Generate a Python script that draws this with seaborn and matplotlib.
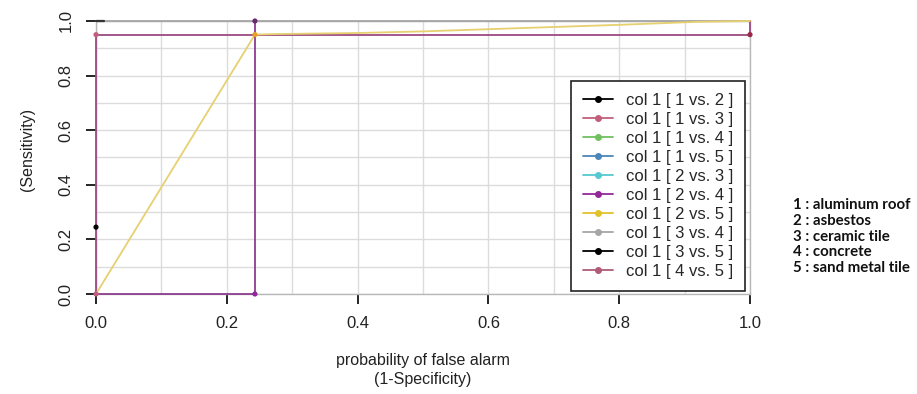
import matplotlib
matplotlib.use("Agg")
import matplotlib.pyplot as plt
from matplotlib.lines import Line2D
import seaborn as sns
import pandas as pd
import numpy as np

sns.set_theme(style="white")
plt.rcParams['font.family'] = ['Liberation Sans', 'DejaVu Sans']

# ---- data ----
series_labels = ["col 1 [ 1 vs. 2 ]", "col 1 [ 1 vs. 3 ]", "col 1 [ 1 vs. 4 ]",
                 "col 1 [ 1 vs. 5 ]", "col 1 [ 2 vs. 3 ]", "col 1 [ 2 vs. 4 ]",
                 "col 1 [ 2 vs. 5 ]", "col 1 [ 3 vs. 4 ]", "col 1 [ 3 vs. 5 ]",
                 "col 1 [ 4 vs. 5 ]"]
series_colors = ["#000000", "#c0607a", "#70c060", "#4a86b8", "#55c8d0",
                 "#93279a", "#e2c22a", "#a6a6a6", "#000000", "#b05a78"]

# visible curves (false alarm x, sensitivity y)
x_12 = [0.0]
y_12 = [0.245]
x_34 = [0.0, 1.0]
y_34 = [1.0, 1.0]
x_45 = [0.0, 0.0, 1.0, 1.0]
y_45 = [0.0, 0.95, 0.95, 1.0]
x_24 = [0.0, 0.243, 0.243]
y_24 = [0.0, 0.0, 1.0]
x_25 = [0.0, 0.243, 0.27, 0.40, 0.50, 0.60, 0.70, 0.80, 0.92, 1.0]
y_25 = [0.0, 0.95, 0.952, 0.956, 0.962, 0.970, 0.978, 0.986, 0.997, 1.0]

# points marked on curves
px_pts = [0.0, 0.243, 0.243, 0.243, 0.0, 1.0, 0.0]
py_pts = [0.245, 0.0, 1.0, 0.95, 0.95, 0.95, 0.0]
pc_pts = ["#000000", "#93279a", "#6a2a70", "#e8a020", "#c0607a", "#9a2848", "#c0607a"]

key_labels = ["1 : aluminum roof", "2 : asbestos", "3 : ceramic tile",
              "4 : concrete", "5 : sand metal tile"]

# ---- figure ----
fig = plt.figure(figsize=(9.17, 3.94), dpi=100)
ax = fig.add_axes([96/917, 1-294/394, (750-96)/917, (294-21)/394])

curves = [("col 1 [ 3 vs. 4 ]", x_34, y_34, "#a6a6a6"),
          ("col 1 [ 4 vs. 5 ]", x_45, y_45, "#9c4a82"),
          ("col 1 [ 2 vs. 5 ]", x_25, y_25, "#e6d070"),
          ("col 1 [ 2 vs. 4 ]", x_24, y_24, "#8e3c8e")]
for name, xs, ys, col in curves:
    df = pd.DataFrame({"x": xs, "y": ys})
    sns.lineplot(data=df, x="x", y="y", sort=False, estimator=None, color=col,
                 linewidth=1.3, ax=ax, clip_on=False, zorder=3)

# dark short stub at top-left
stub = pd.DataFrame({"x": [0.0, 0.012], "y": [1.0, 1.0]})
sns.lineplot(data=stub, x="x", y="y", sort=False, estimator=None, color="#333333",
             linewidth=1.6, ax=ax, clip_on=False, zorder=3)

pts = pd.DataFrame({"x": px_pts, "y": py_pts, "c": [str(i) for i in range(len(px_pts))]})
sns.scatterplot(data=pts, x="x", y="y", hue="c", palette=pc_pts, s=14,
                edgecolor="none", legend=False, ax=ax, clip_on=False, zorder=4)

ax.set_xlim(0, 1)
ax.set_ylim(0, 1)
ax.set_xticks(np.arange(0, 1.01, 0.2))
ax.set_yticks(np.arange(0, 1.01, 0.2))
ax.set_xticks(np.arange(0.1, 1.0, 0.2), minor=True)
ax.set_yticks(np.arange(0.1, 1.0, 0.2), minor=True)
ax.set_xticklabels([f"{v:.1f}" for v in np.arange(0, 1.01, 0.2)])
ax.set_yticklabels([f"{v:.1f}" for v in np.arange(0, 1.01, 0.2)])
ax.grid(True, which="both", color="#dcdcdc", linewidth=1.0)
ax.set_axisbelow(True)
for sp in ax.spines.values():
    sp.set_color("#b8b8b8")
    sp.set_linewidth(1.0)
ax.tick_params(axis="both", which="major", direction="out", length=7, width=1.2,
               color="black", labelsize=12, labelcolor="#222222", pad=9,
               bottom=True, left=True)
ax.tick_params(axis="both", which="minor", length=0)
ax.tick_params(axis="y", labelrotation=90)
for lab in ax.get_yticklabels():
    lab.set_va("center")

ax.set_xlabel("probability of false alarm\n(1-Specificity)", fontsize=11.5,
              color="#222222", labelpad=16, linespacing=1.3)
ax.set_ylabel("(Sensitivity)", fontsize=11.5, color="#222222")
ax.yaxis.set_label_coords(-0.094, 0.53)

handles = [Line2D([0], [0], color=c, marker="o", markersize=4, linewidth=1.3)
           for c in series_colors]
leg = ax.legend(handles, series_labels, loc="upper right",
                bbox_to_anchor=(0.993, 0.782), frameon=True, fancybox=False,
                edgecolor="#222222", framealpha=1, fontsize=12,
                handlelength=1.8, handletextpad=0.8, labelspacing=0.245,
                borderpad=0.72, borderaxespad=0)
leg.get_frame().set_linewidth(1.2)

for i, t in enumerate(key_labels):
    fig.text(793/917, 1-(205 + i*15.8)/394, t, fontsize=10.8, fontweight="bold",
             family=["Lato", "DejaVu Sans"], va="center", ha="left", color="#111111")

fig.savefig("out.png", dpi=100)
